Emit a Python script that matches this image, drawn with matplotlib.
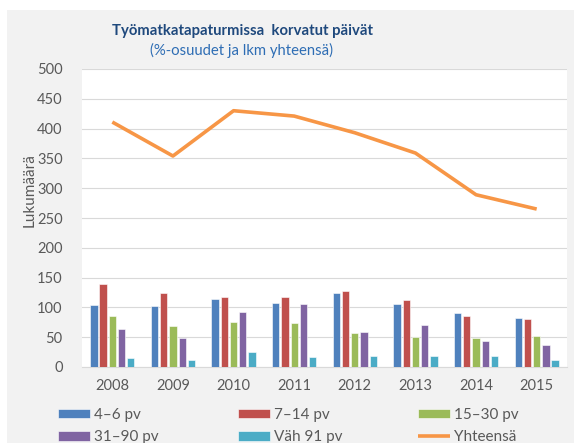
import matplotlib
matplotlib.use("Agg")
import matplotlib.pyplot as plt
import numpy as np
from matplotlib.patches import Rectangle

years = ["2008", "2009", "2010", "2011", "2012", "2013", "2014", "2015"]
d4_6 = [104, 102, 114, 108, 124, 105, 90, 82]
d7_14 = [140, 124, 118, 117, 128, 113, 85, 80]
d15_30 = [85, 68, 75, 74, 57, 50, 49, 52]
d31_90 = [64, 49, 92, 105, 58, 71, 44, 37]
d91 = [15, 12, 26, 17, 19, 18, 18, 12]
total = [411, 354, 430, 421, 393, 359, 289, 265]
series_labels = ["4–6 pv", "7–14 pv", "15–30 pv", "31–90 pv", "Väh 91 pv"]
line_label = "Yhteensä"
yticks = [0, 50, 100, 150, 200, 250, 300, 350, 400, 450, 500]

colors = ["#4f81bd", "#c0504d", "#9bbb59", "#8064a2", "#4bacc6"]
orange = "#f79646"
txt = "#595959"
plt.rcParams['font.family'] = ['Lato', 'DejaVu Sans']

W, H = 574, 443
fig = plt.figure(figsize=(W / 100, H / 100), dpi=100)
fig.patch.set_facecolor("white")
fig.patches.append(Rectangle((7 / W, 0), 1 - 7 / W, 1 - 10 / H, transform=fig.transFigure,
                             facecolor="#f2f2f2", edgecolor="none", zorder=-10))

ax = fig.add_axes([82 / W, 1 - 367 / H, (567 - 82) / W, (367 - 69) / H])
ax.set_facecolor("white")
x = np.arange(len(years))
pitch = 0.152
width = 0.12
series = [d4_6, d7_14, d15_30, d31_90, d91]
bars = []
for i, (vals, c, lab) in enumerate(zip(series, colors, series_labels)):
    b = ax.bar(x + (i - 2) * pitch, vals, width, color=c, label=lab, zorder=3,
               edgecolor="white", linewidth=0.4)
    bars.append(b)
ln, = ax.plot(x, total, color=orange, lw=2.6, zorder=4, label=line_label,
              solid_capstyle="butt")

ax.set_xlim(-0.5, len(years) - 0.5)
ax.set_ylim(0, 500)
ax.set_yticks(yticks)
ax.set_xticks(x)
ax.set_xticklabels(years)
ax.grid(axis="y", color="#d9d9d9", lw=0.8, zorder=0)
for s in ["top", "right", "left"]:
    ax.spines[s].set_visible(False)
ax.spines["bottom"].set_color("#d9d9d9")
ax.tick_params(axis="both", length=0, colors=txt, labelsize=10.5)
ax.tick_params(axis="x", pad=9)
ax.tick_params(axis="y", pad=14)

fig.text(30 / W, 1 - 190 / H, "Lukumäärä", rotation=90, ha="center", va="center",
         color=txt, fontsize=11)
fig.text(242 / W, 1 - 31 / H, "Työmatkatapaturmissa  korvatut päivät", ha="center",
         va="center", color="#1f497d", fontsize=10.7, fontweight="bold")
fig.text(241 / W, 1 - 50 / H, "(%-osuudet ja lkm yhteensä)", ha="center", va="center",
         color="#2e6db4", fontsize=10.7)

# legend: three columns at fixed positions, as in the reference
columns = [([bars[0], bars[3]], [series_labels[0], series_labels[3]], 58),
           ([bars[1], bars[4]], [series_labels[1], series_labels[4]], 238),
           ([bars[2], ln], [series_labels[2], line_label], 418)]
for hs, ls, xpix in columns:
    leg = fig.legend(hs, ls, ncol=1, loc="upper left",
                     bbox_to_anchor=(xpix / W, 1 - 408 / H), frameon=False, fontsize=11,
                     handlelength=2.1, handleheight=0.55, handletextpad=0.25,
                     labelspacing=0.55, borderaxespad=0, borderpad=0)
    for t in leg.get_texts():
        t.set_color(txt)

fig.savefig("out.png", dpi=100)
